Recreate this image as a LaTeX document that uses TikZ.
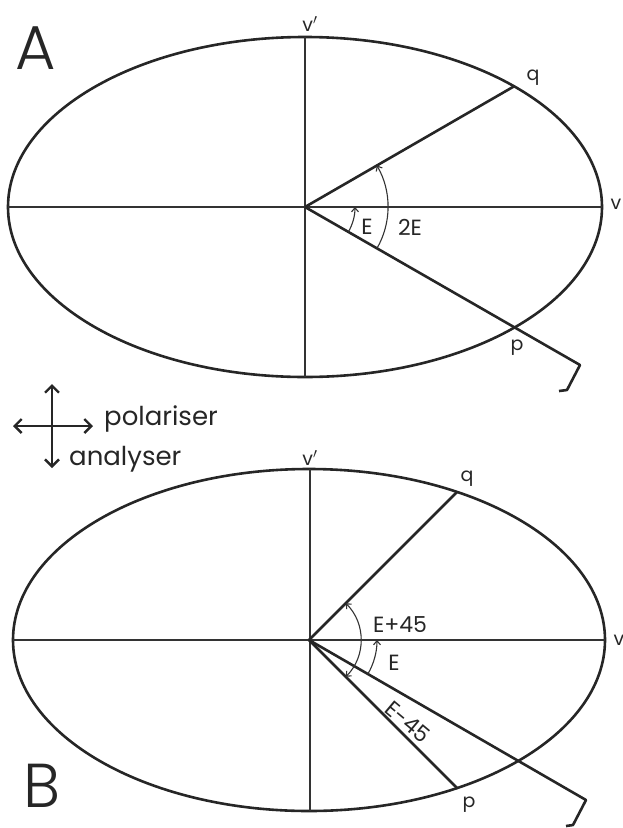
\documentclass[tikz,border=0pt]{standalone}
\usepackage{fontspec}
\setmainfont{Poppins}
\newfontfamily\lightfont{Poppins}[UprightFont=* Light]
\usetikzlibrary{arrows.meta}

\begin{document}
\begin{tikzpicture}[
  x=1pt, y=1pt,
  >={Straight Barb[length=4pt,width=7pt]},
  rim/.style={line width=2.6pt, draw=black!85},
  axis/.style={line width=1.2pt, draw=black!80},
  ray/.style={line width=2.6pt, draw=black!85, line join=round},
  ang/.style={line width=1.1pt, draw=black!80},
  dir/.style={line width=2.4pt, draw=black!85, {Straight Barb[length=7pt,width=14pt]}-{Straight Barb[length=7pt,width=14pt]}},
  lbl/.style={font=\fontsize{19}{24}\selectfont, inner sep=0pt, text=black!85},
  alab/.style={font=\fontsize{22}{28}\selectfont, inner sep=0pt, text=black!85},
  leg/.style={font=\fontsize{26}{32}\selectfont, inner sep=0pt, text=black!85},
  big/.style={font=\lightfont\fontsize{62}{66}\selectfont, inner sep=0pt, text=black!85}
]
\useasboundingbox (0,0) rectangle (623,-828);

% Panel A
\coordinate (oA) at (305,-207);
\coordinate (qA) at (514.1,-86.3);
\coordinate (hA1) at (580,-365);
\coordinate (hA2) at (567,-390);
\coordinate (hA3) at (559,-391);
\draw[rim] (oA) ellipse [x radius=297, y radius=170];
\draw[axis] (8,-207) coordinate (wA) -- (602,-207) coordinate (eA);
\draw[axis] (305,-37) coordinate (nA) -- (305,-377) coordinate (sA);
\draw[ray] (oA) -- (qA);
\draw[ray] (oA) -- (hA1) -- (hA2) -- (hA3);
\draw[ang, ->] (oA) ++(-30:50) arc[start angle=-30, end angle=0, radius=50];
\draw[ang, ->] (oA) ++(-30:83) arc[start angle=-30, end angle=30, radius=83];

\node[big] (labA) at (36,-48) {A};
\node[lbl] (vpA) at (310,-24) {v$'$};
\node[lbl] (qlA) at (533,-78) {q};
\node[lbl] (vA) at (616,-204) {v};
\node[lbl] (plA) at (517,-348) {p};
\node[alab] (eA1) at (367,-227) {E};
\node[alab] (eA2) at (410,-227) {2E};

% Polariser / analyser directions
\coordinate (lw) at (13,-426);
\coordinate (le) at (93,-426);
\coordinate (ln) at (52,-384);
\coordinate (ls) at (52,-468);
\draw[dir] (lw) -- (le);
\draw[dir] (ln) -- (ls);
\node[leg, anchor=base west] (pol) at (104,-425) {polariser};
\node[leg, anchor=base west] (ana) at (69,-465) {analyser};

% Panel B
\coordinate (oB) at (309,-640);
\coordinate (qB) at (457.1,-491.9);
\coordinate (pB) at (457.1,-788.1);
\coordinate (hB1) at (586,-800);
\coordinate (hB2) at (573,-825);
\coordinate (hB3) at (566,-826);
\draw[rim] (oB) ellipse [x radius=296, y radius=171];
\draw[axis] (13,-640) coordinate (wB) -- (605,-640) coordinate (eB);
\draw[axis] (310,-469) coordinate (nB) -- (310,-811) coordinate (sB);
\draw[ray] (oB) -- (qB);
\draw[ray] (oB) -- (pB);
\draw[ray] (oB) -- (hB1) -- (hB2) -- (hB3);
\draw[ang, ->] (oB) ++(-30:68) arc[start angle=-30, end angle=0, radius=68];
\draw[ang, <->] (oB) ++(-45:52) arc[start angle=-45, end angle=45, radius=52];

\node[big] (labB) at (42,-786) {B};
\node[lbl] (vpB) at (310,-458) {v$'$};
\node[lbl] (qlB) at (467,-479) {q};
\node[lbl] (vB) at (619,-640) {v};
\node[lbl] (plB) at (469,-805) {p};
\node[alab] (eB1) at (400,-625) {E+45};
\node[alab] (eB2) at (394,-663) {E};
\node[alab, rotate=-40] (eB3) at (408,-722) {E-45};
\end{tikzpicture}
\end{document}
